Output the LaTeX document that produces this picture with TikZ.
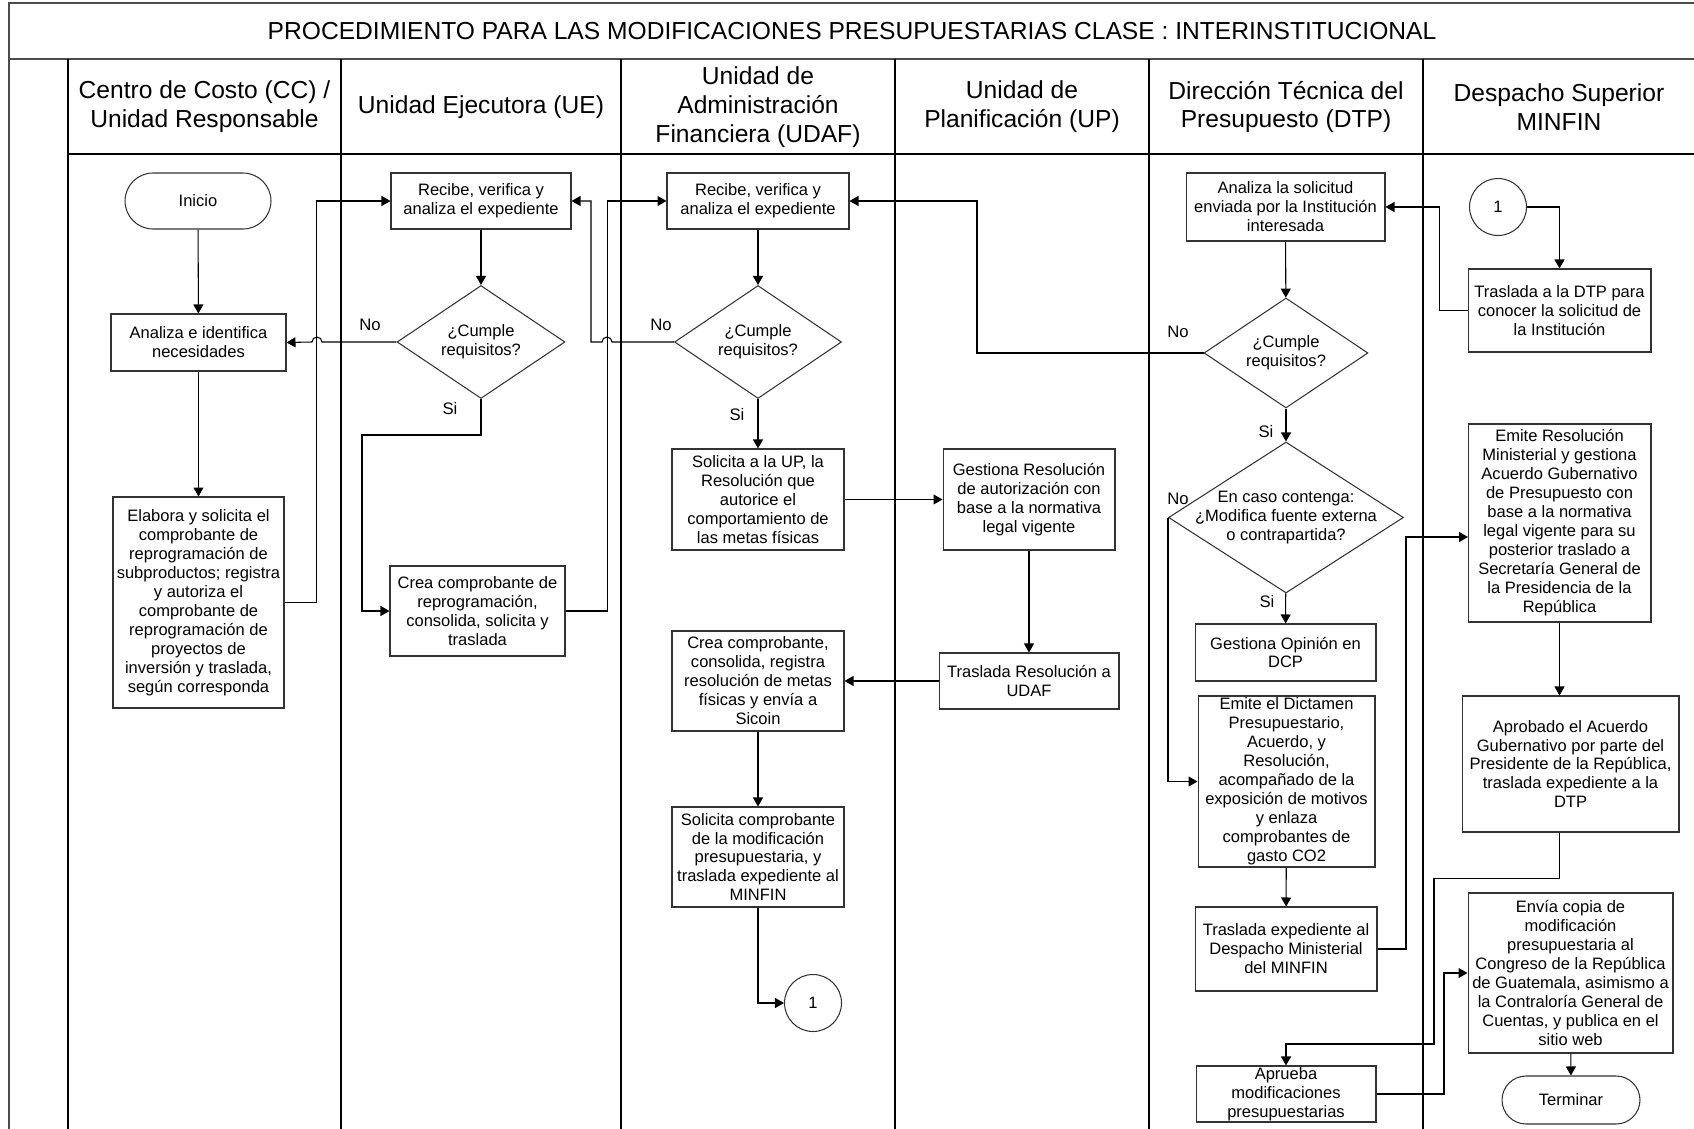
\documentclass[tikz,border=0pt]{standalone}
\usepackage{fontspec}
\setmainfont{Liberation Sans}
\usetikzlibrary{shapes.geometric,shapes.misc,arrows.meta}
\begin{document}
\begin{tikzpicture}[x=0.02cm,y=-0.02cm,
		lane/.style={line width=0.9pt},
		frame/.style={draw=black!70,line width=1.3pt},
		header/.style={align=center,font=\fontsize{14}{16.4}\selectfont},
		process/.style 2 args={draw=black!80,line width=0.6pt,align=center,inner sep=0pt,
			minimum width=#1,minimum height=#2,font=\fontsize{9.4}{10.8}\selectfont},
		terminal/.style 2 args={rounded rectangle,process={#1}{#2}},
		decision/.style 2 args={diamond,draw=black!80,line width=0.6pt,inner sep=0pt,
			minimum width=#1,minimum height=#2},
		inside/.style={label={[align=center,font=\fontsize{9.4}{10.8}\selectfont]center:#1}},
		onpage/.style={circle,draw=black!80,line width=0.6pt,inner sep=0pt,
			minimum size=1.14cm,font=\fontsize{9.4}{10.8}\selectfont},
		flow/.style={line width=0.6pt,-{Triangle[length=1.8mm,width=2mm]}},
		answer/.style={font=\fontsize{9.5}{11}\selectfont}]
	\useasboundingbox (0,0) rectangle (1694,1129);
	\draw[frame] (1694,3) -- (9,3) -- (9,1129) (9,59) -- (1694,59);
	\draw[lane] (68,154) -- (1694,154);
	\foreach \x in {68,341,621,895,1149,1423}
		\draw[lane] (\x,59) -- (\x,1129);
	\node[font=\fontsize{14}{16}\selectfont] (title) at (852,31)
		{PROCEDIMIENTO PARA LAS MODIFICACIONES PRESUPUESTARIAS CLASE : INTERINSTITUCIONAL};
	\node[header] (hCC) at (204.5,107) {Centro de Costo (CC) /\\Unidad Responsable};
	\node[header] (hUE) at (481,107) {Unidad Ejecutora (UE)};
	\node[header] (hUDAF) at (758,107) {Unidad de\\Administración\\Financiera (UDAF)};
	\node[header] (hUP) at (1022,107) {Unidad de\\Planificación (UP)};
	\node[header] (hDTP) at (1286,107) {Dirección Técnica del\\Presupuesto (DTP)};
	\node[header] (hDS) at (1559,107) {Despacho Superior\\MINFIN};
	% Centro de Costo
	\node[terminal={2.92cm}{1.12cm}] (inicio) at (198,201) {Inicio};
	\node[process={3.5cm}{1.14cm}] (analiza) at (198.5,342.5) {Analiza e identifica\\necesidades};
	\node[process={3.42cm}{4.22cm}] (elabora) at (198.5,602.5) {Elabora y solicita el\\comprobante de\\reprogramación de\\subproductos; registra\\y autoriza el\\comprobante de\\reprogramación de\\proyectos de\\inversión y traslada,\\según corresponda};
	% Unidad Ejecutora
	\node[process={3.6cm}{1.12cm}] (recibeUE) at (481,201) {Recibe, verifica y\\analiza el expediente};
	\node[decision={3.36cm}{2.26cm},inside={¿Cumple\\requisitos?}] (cumpleUE) at (481,342) {};
	\node[process={3.5cm}{1.8cm}] (creaUE) at (477.5,611) {Crea comprobante de\\reprogramación,\\consolida, solicita y\\traslada};
	% UDAF
	\node[process={3.64cm}{1.12cm}] (recibeUDAF) at (758,201) {Recibe, verifica y\\analiza el expediente};
	\node[decision={3.34cm}{2.26cm},inside={¿Cumple\\requisitos?}] (cumpleUDAF) at (758,342) {};
	\node[process={3.44cm}{2.02cm}] (solUP) at (758,499.5) {Solicita a la UP, la\\Resolución que\\autorice el\\comportamiento de\\las metas físicas};
	\node[process={3.44cm}{2cm}] (creaUDAF) at (758,681) {Crea comprobante,\\consolida, registra\\resolución de metas\\físicas y envía a\\Sicoin};
	\node[process={3.44cm}{2cm}] (solComp) at (758,857) {Solicita comprobante\\de la modificación\\presupuestaria, y\\traslada expediente al\\MINFIN};
	\node[onpage] (salida) at (813,1003) {1};
	% Unidad de Planificacion
	\node[process={3.44cm}{2.02cm}] (gestionaUP) at (1029,499.5) {Gestiona Resolución\\de autorización con\\base a la normativa\\legal vigente};
	\node[process={3.6cm}{1.12cm}] (trasladaUP) at (1029,681) {Traslada Resolución a\\UDAF};
	% DTP
	\node[process={3.98cm}{1.36cm}] (analizaDTP) at (1285.5,207) {Analiza la solicitud\\enviada por la Institución\\interesada};
	\node[decision={3.28cm}{2.2cm},inside={¿Cumple\\requisitos?}] (cumpleDTP) at (1286,353) {};
	\node[decision={4.7cm}{3.02cm},inside={En caso contenga:\\¿Modifica fuente externa\\o contrapartida?}] (fuente) at (1286,517.5) {};
	\node[process={3.62cm}{1.14cm}] (opinion) at (1285.5,652.5) {Gestiona Opinión en\\DCP};
	\node[process={3.54cm}{3.42cm}] (dictamen) at (1286.5,781.5) {Emite el Dictamen\\Presupuestario,\\Acuerdo, y\\Resolución,\\acompañado de la\\exposición de motivos\\y enlaza\\comprobantes de\\gasto CO2};
	\node[process={3.64cm}{1.68cm}] (trasExp) at (1286,949) {Traslada expediente al\\Despacho Ministerial\\del MINFIN};
	\node[process={3.6cm}{1.12cm}] (aprueba) at (1286,1094) {Aprueba\\modificaciones\\presupuestarias};
	% Despacho Superior
	\node[onpage] (entrada) at (1498,207) {1};
	\node[process={3.66cm}{1.66cm}] (trasDTP) at (1559.5,310.5) {Traslada a la DTP para\\conocer la solicitud de\\la Institución};
	\node[process={3.66cm}{3.96cm}] (emiteRes) at (1559.5,523) {Emite Resolución\\Ministerial y gestiona\\Acuerdo Gubernativo\\de Presupuesto con\\base a la normativa\\legal vigente para su\\posterior traslado a\\Secretaría General de\\la Presidencia de la\\República};
	\node[process={4.34cm}{2.72cm}] (aprobado) at (1570.5,764) {Aprobado el Acuerdo\\Gubernativo por parte del\\Presidente de la República,\\traslada expediente a la\\DTP};
	\node[process={4.1cm}{3.2cm}] (envia) at (1570.5,973) {Envía copia de\\modificación\\presupuestaria al\\Congreso de la República\\de Guatemala, asimismo a\\la Contraloría General de\\Cuentas, y publica en el\\sitio web};
	\node[terminal={2.76cm}{0.96cm}] (terminar) at (1571,1100) {Terminar};
	\coordinate (inRes) at (1468,537);
	% conectores
	\draw[flow] (inicio) -- (analiza);
	\draw[flow] (analiza) -- (elabora);
	\draw[flow] (elabora.east) -- ++(32,0) |- (recibeUE.west);
	\draw[flow] (recibeUE) -- (cumpleUE);
	\draw[flow] (cumpleUE.west) -- (322,342) arc (0:180:0.1cm) -- (analiza.east);
	\draw[flow] (cumpleUE.south) -- (481,435) -- (362,435) |- (creaUE.west);
	\draw[flow] (creaUE.east) -- ++(42,0) |- (recibeUDAF.west);
	\draw[flow] (cumpleUDAF.west) -- (612,342) arc (0:180:0.1cm) -- (591,342) |- (recibeUE.east);
	\draw[flow] (recibeUDAF) -- (cumpleUDAF);
	\draw[flow] (cumpleUDAF) -- (solUP);
	\draw[flow] (solUP) -- (gestionaUP);
	\draw[flow] (gestionaUP) -- (trasladaUP);
	\draw[flow] (trasladaUP) -- (creaUDAF);
	\draw[flow] (creaUDAF) -- (solComp);
	\draw[flow] (solComp.south) |- (salida.west);
	\draw[flow] (cumpleDTP.west) -- (977,353) |- (recibeUDAF.east);
	\draw[flow] (analizaDTP) -- (cumpleDTP);
	\draw[flow] (cumpleDTP) -- (fuente);
	\draw[flow] (fuente) -- (opinion);
	\draw[flow] (fuente.west) |- (dictamen.west);
	\draw[flow] (dictamen) -- (trasExp);
	\draw[flow] (trasExp.east) -- (1406,949) |- (inRes);
	\draw[flow] (entrada.east) -| (trasDTP.north);
	\draw[flow] (trasDTP.west) -- ++(-28,0) |- (analizaDTP.east);
	\draw[flow] (emiteRes.south) -- (emiteRes.south |- aprobado.north);
	\draw[flow] (aprobado.south -| emiteRes.south) -- ++(0,46) -| (1434,1044) -| (aprueba.north);
	\draw[flow] (aprueba.east) -- (1444,1094) |- (envia.west);
	\draw[flow] (envia) -- (terminar);
	% respuestas
	\node[answer] (noUE) at (370,325) {No};
	\node[answer] (siUE) at (450,409) {Si};
	\node[answer] (noUDAF) at (661,325) {No};
	\node[answer] (siUDAF) at (737,415) {Si};
	\node[answer] (noDTP) at (1178,332) {No};
	\node[answer] (siDTP) at (1266,432) {Si};
	\node[answer] (noFuente) at (1178,499) {No};
	\node[answer] (siFuente) at (1267,602) {Si};
\end{tikzpicture}
\end{document}
